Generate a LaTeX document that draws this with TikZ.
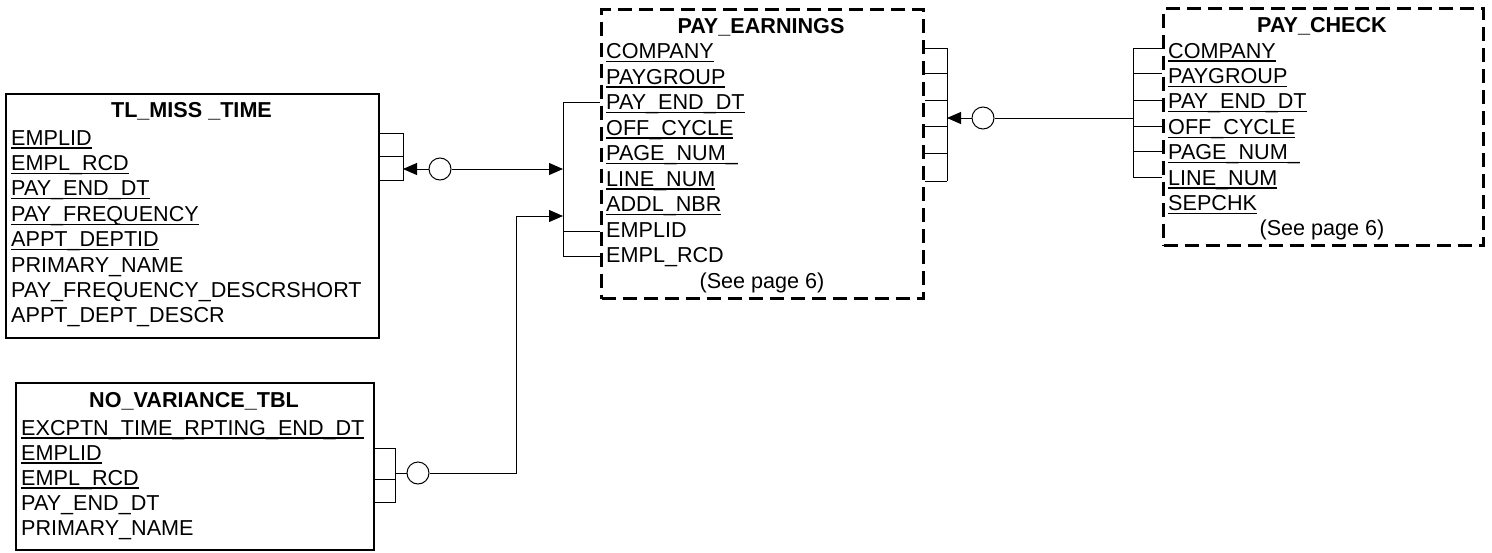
\documentclass[tikz,border=0pt]{standalone}
\usepackage{fontspec}
\setmainfont{Liberation Sans}
\usetikzlibrary{arrows.meta}
\newcommand\fsz{\fontsize{21.6}{25.4}\selectfont}
\newcommand\fu[1]{\setbox0\hbox{#1}\rlap{\rule[-3.6pt]{\wd0}{1.3pt}}\box0}
\tikzset{
  solidbox/.style={draw, line width=1.6pt, rectangle, inner sep=0pt, anchor=north west},
  dashbox/.style={draw, line width=3pt, dash pattern=on 14pt off 7pt, rectangle, inner sep=0pt, anchor=north west},
  fld/.style={anchor=base west, inner sep=0pt, font=\fsz},
  ttl/.style={anchor=base, inner sep=0pt, font=\fsz\bfseries},
  note/.style={anchor=base, inner sep=0pt, font=\fsz},
  conn/.style={draw, line width=1pt},
  circ/.style={circle, draw, line width=1pt, minimum size=22pt, inner sep=0pt},
  tip/.style={-{Triangle[length=14pt,width=12pt]}}
}
\begin{document}
\begin{tikzpicture}[x=1pt,y=-1pt]
\useasboundingbox (0,0) rectangle (1492,552);

% ---------- TL_MISS_TIME ----------
\node[solidbox, minimum width=373pt, minimum height=244pt] (tl) at (5,93) {};
\node[ttl] (tlt) at (191.5,117) {TL\_MISS \_TIME};
\node[fld] (tl1) at (11,145) {\fu{EMPLID}};
\node[fld] (tl2) at (11,170.4) {\fu{EMPL\_RCD}};
\node[fld] (tl3) at (11,195.8) {\fu{PAY\_END\_DT}};
\node[fld] (tl4) at (11,221.2) {\fu{PAY\_FREQUENCY}};
\node[fld] (tl5) at (11,246.6) {\fu{APPT\_DEPTID}};
\node[fld] (tl6) at (11,272) {PRIMARY\_NAME};
\node[fld] (tl7) at (11,297.4) {PAY\_FREQUENCY\_DESCRSHORT};
\node[fld] (tl8) at (11,322.8) {APPT\_DEPT\_DESCR};

% ---------- NO_VARIANCE_TBL ----------
\node[solidbox, minimum width=358pt, minimum height=167pt] (nv) at (15,382) {};
\node[ttl] (nvt) at (194,407) {NO\_VARIANCE\_TBL};
\node[fld] (nv1) at (21,435) {\fu{EXCPTN\_TIME\_RPTING\_END\_DT}};
\node[fld] (nv2) at (21,460) {\fu{EMPLID}};
\node[fld] (nv3) at (21,485) {\fu{EMPL\_RCD}};
\node[fld] (nv4) at (21,510) {PAY\_END\_DT};
\node[fld] (nv5) at (21,535) {PRIMARY\_NAME};

% ---------- PAY_EARNINGS ----------
\node[dashbox, minimum width=322pt, minimum height=289pt] (pe) at (600,8) {};
\node[ttl] (pet) at (761,33) {PAY\_EARNINGS};
\node[fld] (pe1) at (606,58.5) {\fu{COMPANY}};
\node[fld] (pe2) at (606,84) {\fu{PAYGROUP}};
\node[fld] (pe3) at (606,109.5) {\fu{PAY\_END\_DT}};
\node[fld] (pe4) at (606,135) {\fu{OFF\_CYCLE}};
\node[fld] (pe5) at (606,160.5) {\fu{PAGE\_NUM\_}};
\node[fld] (pe6) at (606,186) {\fu{LINE\_NUM}};
\node[fld] (pe7) at (606,211.5) {\fu{ADDL\_NBR}};
\node[fld] (pe8) at (606,237) {EMPLID};
\node[fld] (pe9) at (606,262.5) {EMPL\_RCD};
\node[note] (pen) at (762,288) {(See page 6)};

% ---------- PAY_CHECK ----------
\node[dashbox, minimum width=320pt, minimum height=237pt] (pc) at (1162,7) {};
\node[ttl] (pct) at (1322,32) {PAY\_CHECK};
\node[fld] (pc1) at (1168,58) {\fu{COMPANY}};
\node[fld] (pc2) at (1168,83.4) {\fu{PAYGROUP}};
\node[fld] (pc3) at (1168,108.8) {\fu{PAY\_END\_DT}};
\node[fld] (pc4) at (1168,134.2) {\fu{OFF\_CYCLE}};
\node[fld] (pc5) at (1168,159.6) {\fu{PAGE\_NUM\_}};
\node[fld] (pc6) at (1168,185) {\fu{LINE\_NUM}};
\node[fld] (pc7) at (1168,210.4) {\fu{SEPCHK}};
\node[note] (pcn) at (1322,235) {(See page 6)};

% ---------- circles ----------
\node[circ] (c1) at (440,169) {};
\node[circ] (c2) at (418,473) {};
\node[circ] (c3) at (983,118) {};

% ---------- coordinates ----------
\coordinate (tlv1) at (403,133);
\coordinate (tlv2) at (403,156);
\coordinate (tlv3) at (403,180);
\coordinate (tlvm) at (403,169);
\coordinate (pel1) at (563,102);
\coordinate (pel2) at (563,231);
\coordinate (pel3) at (563,256);
\coordinate (pela) at (563,169);
\coordinate (pelb) at (563,216);
\coordinate (nvv1) at (395,448);
\coordinate (nvv2) at (395,479);
\coordinate (nvv3) at (395,502);
\coordinate (nvvm) at (395,473);
\coordinate (bend1) at (516,473);
\coordinate (bend2) at (516,216);
\coordinate (per1) at (947,48);
\coordinate (per6) at (947,181);
\coordinate (perm) at (947,118);
\coordinate (pcl1) at (1133,48);
\coordinate (pcl6) at (1133,177);
\coordinate (pclm) at (1133,118);

% ---------- TL_MISS_TIME bracket and link ----------
\draw[conn] (tl.east |- tlv1) -- (tlv1) -- (tlv3) -- (tl.east |- tlv3);
\draw[conn] (tl.east |- tlv2) -- (tlv2);
\draw[conn, tip] (c1.west) -- (tlvm);
\draw[conn, tip] (c1.east) -- (pela);

% ---------- PAY_EARNINGS left bracket ----------
\draw[conn] (pe.west |- pel1) -- (pel1) -- (pel3) -- (pe.west |- pel3);
\draw[conn] (pel2) -- (pe.west |- pel2);

% ---------- NO_VARIANCE bracket and link ----------
\draw[conn] (nv.east |- nvv1) -- (nvv1) -- (nvv3) -- (nv.east |- nvv3);
\draw[conn] (nv.east |- nvv2) -- (nvv2);
\draw[conn] (nvvm) -- (c2.west);
\draw[conn, tip] (c2.east) -- (bend1) -- (bend2) -- (pelb);

% ---------- PAY_EARNINGS right bracket ----------
\draw[conn] (per1) -- (per6);
\foreach \yy in {48,73,100,126,153,181}{
  \draw[conn] (pe.east |- 0,\yy) -- (947,\yy);
}
\draw[conn, tip] (c3.west) -- (perm);

% ---------- PAY_CHECK left bracket ----------
\draw[conn] (c3.east) -- (pclm);
\draw[conn] (pcl1) -- (pcl6);
\foreach \yy in {48,73,100,126,151,177}{
  \draw[conn] (1133,\yy) -- (pc.west |- 0,\yy);
}
\end{tikzpicture}
\end{document}
